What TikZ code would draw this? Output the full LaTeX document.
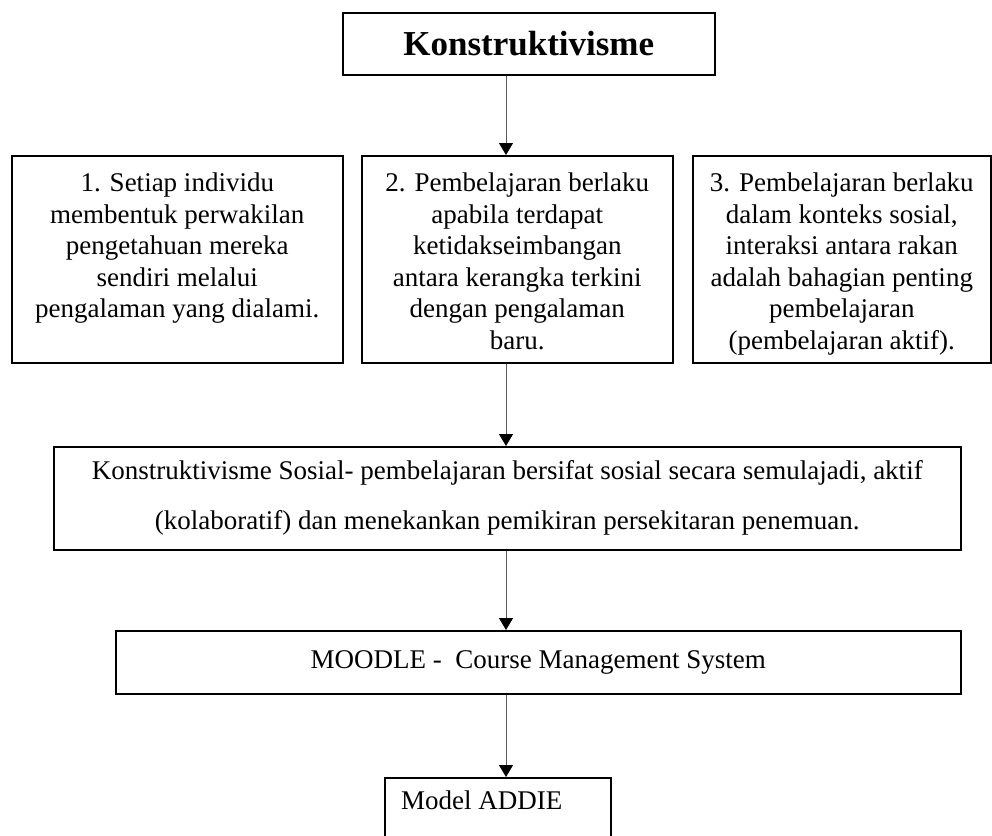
\documentclass[tikz,border=0pt]{standalone}
\usepackage{fontspec}
\setmainfont{Liberation Serif}
\usetikzlibrary{arrows.meta,positioning}

\begin{document}
\begin{tikzpicture}[
    x=1pt, y=-1pt,
    frame/.style={rectangle, draw, line width=1.5pt, inner sep=0pt, anchor=north west},
    txt/.style={align=center, inner sep=0pt, font=\fontsize{27}{31.5}\selectfont},
    flow/.style={draw=black!65, line width=1pt, -{Triangle[length=12pt, width=14pt, color=black]}}
]
\useasboundingbox (0,0) rectangle (992,835);
\coordinate (ax) at (506,0);

\node[frame, minimum width=372pt, minimum height=62pt, font=\fontsize{35}{40}\selectfont\bfseries] (p0) at (342,12) {Konstruktivisme};

\node[frame, minimum width=331pt, minimum height=207pt] (p1) at (11,155) {};
\node[txt, below=18pt of p1.north] (t1) {1. Setiap individu\\membentuk perwakilan\\pengetahuan mereka\\sendiri melalui\\pengalaman yang dialami.};

\node[frame, minimum width=311pt, minimum height=207pt] (p2) at (361,155) {};
\node[txt, below=18pt of p2.north] (t2) {2. Pembelajaran berlaku\\apabila terdapat\\ketidakseimbangan\\antara kerangka terkini\\dengan pengalaman\\baru.};

\node[frame, minimum width=298pt, minimum height=207pt] (p3) at (692,155) {};
\node[txt, below=18pt of p3.north] (t3) {3. Pembelajaran berlaku\\dalam konteks sosial,\\interaksi antara rakan\\adalah bahagian penting\\pembelajaran\\(pembelajaran aktif).};

\node[frame, minimum width=907pt, minimum height=103pt, align=center, font=\fontsize{27}{50}\selectfont] (p4) at (53,446) {Konstruktivisme Sosial- pembelajaran bersifat sosial secara semulajadi, aktif\\(kolaboratif) dan menekankan pemikiran persekitaran penemuan.};

\node[frame, minimum width=845pt, minimum height=63pt, font=\fontsize{27}{31.5}\selectfont] (p5) at (115,630) {MOODLE -\ \ Course Management System};

\node[frame, minimum width=226pt, minimum height=90pt] (p6) at (384,777) {};
\node[txt, anchor=north west, below right=14pt and 17pt of p6.north west] (t6) {Model ADDIE};

% arrows
\draw[flow] (p0.south -| ax) -- (p2.north -| ax);
\draw[flow] (p2.south -| ax) -- (p4.north -| ax);
\draw[flow] (p4.south -| ax) -- (p5.north -| ax);
\draw[flow] (p5.south -| ax) -- (p6.north -| ax);
\end{tikzpicture}
\end{document}
